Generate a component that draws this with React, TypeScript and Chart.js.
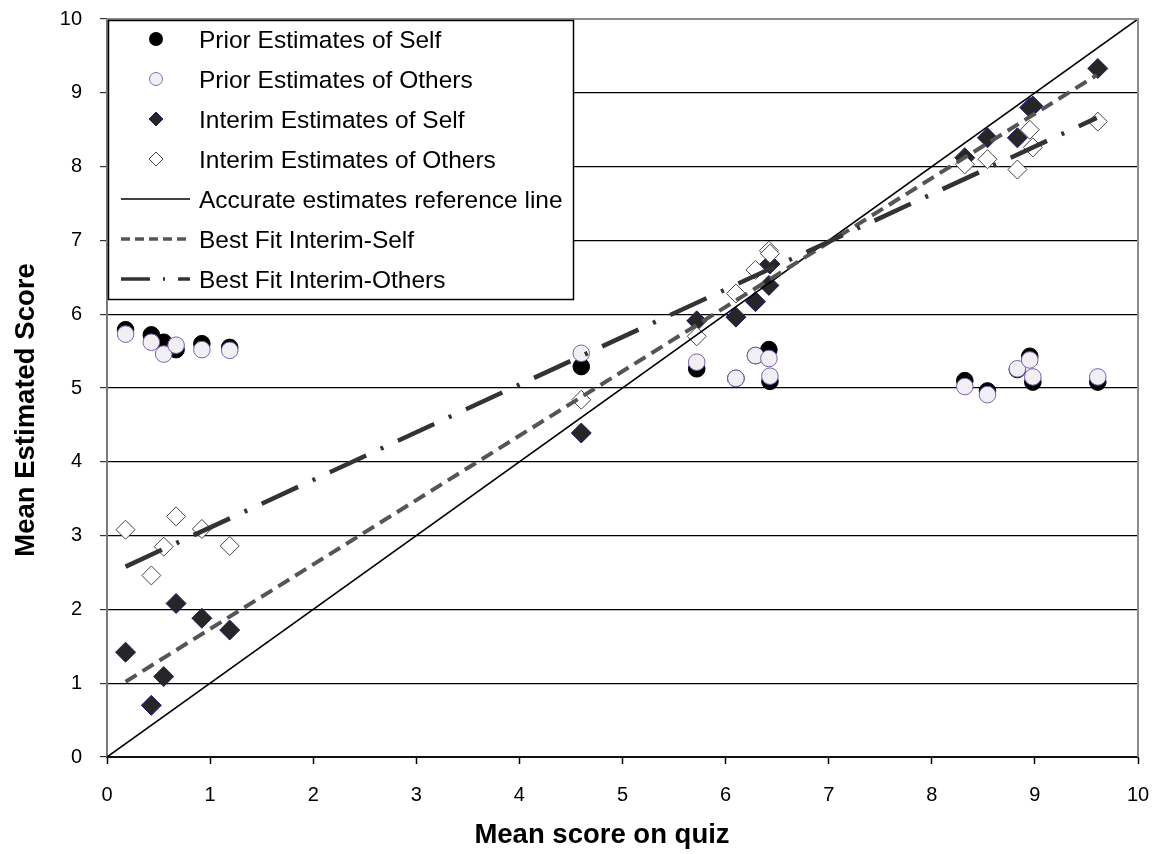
import React, { useEffect, useRef } from 'react';
import { Chart, registerables } from 'chart.js';

Chart.register(...registerables);

// ---- data ----
const quizMeans = [0.18, 0.43, 0.55, 0.67, 0.92, 1.19, 4.6, 5.72, 6.1, 6.29, 6.42, 6.43, 8.32, 8.54, 8.83, 8.95, 8.98, 9.61];
const priorSelf = [5.79, 5.72, 5.62, 5.52, 5.6, 5.55, 5.29, 5.26, 5.13, 5.44, 5.52, 5.09, 5.1, 4.96, 5.25, 5.43, 5.08, 5.08];
const priorOthers = [5.73, 5.62, 5.46, 5.58, 5.52, 5.51, 5.47, 5.35, 5.13, 5.44, 5.4, 5.16, 5.02, 4.91, 5.26, 5.38, 5.15, 5.15];
const interimSelf = [1.42, 0.7, 1.09, 2.08, 1.88, 1.72, 4.39, 5.91, 5.96, 6.17, 6.39, 6.68, 8.12, 8.39, 8.39, 8.8, 8.82, 9.33];
const interimOthers = [3.08, 2.46, 2.85, 3.26, 3.09, 2.86, 4.84, 5.7, 6.28, 6.6, 6.86, 6.82, 8.03, 8.1, 7.96, 8.5, 8.26, 8.61];

const accurateX = [0, 10];
const accurateY = [0, 10];
const fitSelfX = [0.18, 9.6];
const fitSelfY = [1.02, 9.24];
const fitOthersX = [0.18, 9.6];
const fitOthersY = [2.58, 8.66];

const seriesLabels = [
  'Prior Estimates of Self',
  'Prior Estimates of Others',
  'Interim Estimates of Self',
  'Interim Estimates of Others',
  'Accurate estimates reference line',
  'Best Fit Interim-Self',
  'Best Fit Interim-Others',
];
const xAxisTitle = 'Mean score on quiz';
const yAxisTitle = 'Mean Estimated Score';

const FONT = "'Liberation Sans', Arial, Helvetica, sans-serif";

const pts = (xs: number[], ys: number[]) => xs.map((x, i) => ({ x, y: ys[i] }));

function drawDiamond(ctx: CanvasRenderingContext2D, x: number, y: number, r: number) {
  ctx.beginPath();
  ctx.moveTo(x, y - r);
  ctx.lineTo(x + r, y);
  ctx.lineTo(x, y + r);
  ctx.lineTo(x - r, y);
  ctx.closePath();
}

const framePlugin = {
  id: 'frame',
  afterDatasetsDraw(chart: any) {
    const { ctx, chartArea: a } = chart;
    ctx.save();
    ctx.strokeStyle = '#8c8c8c';
    ctx.lineWidth = 2;
    ctx.beginPath();
    ctx.moveTo(a.left, a.top);
    ctx.lineTo(a.right, a.top);
    ctx.lineTo(a.right, a.bottom);
    ctx.stroke();
    ctx.restore();
  },
};

const legendPlugin = {
  id: 'customLegend',
  afterDraw(chart: any) {
    const ctx: CanvasRenderingContext2D = chart.ctx;
    const left = 108, top = 20, w = 466, h = 280;
    ctx.save();
    ctx.fillStyle = '#ffffff';
    ctx.fillRect(left, top, w, h);
    ctx.strokeStyle = '#000';
    ctx.lineWidth = 1.5;
    ctx.strokeRect(left + 0.5, top + 0.5, w - 1, h - 1);
    const symX = 156;
    const l1 = 121, l2 = 190;
    const labels = chart.data.datasets.map((d: any) => d.label);
    labels.forEach((label: string, i: number) => {
      const cy = 39 + 40 * i;
      ctx.setLineDash([]);
      if (i === 0) {
        ctx.beginPath();
        ctx.arc(symX, cy, 7, 0, Math.PI * 2);
        ctx.fillStyle = '#000';
        ctx.fill();
      } else if (i === 1) {
        ctx.beginPath();
        ctx.arc(symX, cy, 6.5, 0, Math.PI * 2);
        ctx.fillStyle = '#f0eff4';
        ctx.fill();
        ctx.strokeStyle = '#8a6cb8';
        ctx.lineWidth = 1;
        ctx.stroke();
      } else if (i === 2) {
        drawDiamond(ctx, symX, cy, 7);
        ctx.fillStyle = '#262626';
        ctx.fill();
        ctx.strokeStyle = '#1e1e6e';
        ctx.lineWidth = 1;
        ctx.stroke();
      } else if (i === 3) {
        drawDiamond(ctx, symX, cy, 7);
        ctx.fillStyle = '#fff';
        ctx.fill();
        ctx.strokeStyle = '#444';
        ctx.lineWidth = 1;
        ctx.stroke();
      } else {
        ctx.beginPath();
        ctx.moveTo(l1, cy);
        ctx.lineTo(l2, cy);
        if (i === 4) {
          ctx.strokeStyle = '#000';
          ctx.lineWidth = 1.5;
        } else if (i === 5) {
          ctx.strokeStyle = '#555';
          ctx.lineWidth = 3.5;
          ctx.setLineDash([9, 5]);
        } else {
          ctx.strokeStyle = '#333';
          ctx.lineWidth = 3.5;
          ctx.setLineDash([29, 13, 2, 13]);
        }
        ctx.stroke();
        ctx.setLineDash([]);
      }
      ctx.fillStyle = '#000';
      ctx.font = `24.5px ${FONT}`;
      ctx.textAlign = 'left';
      ctx.textBaseline = 'alphabetic';
      ctx.fillText(label, 199, cy + 8.5);
    });
    ctx.restore();
  },
};

const titlesPlugin = {
  id: 'axisTitles',
  afterDraw(chart: any) {
    const ctx: CanvasRenderingContext2D = chart.ctx;
    ctx.save();
    ctx.fillStyle = '#000';
    ctx.font = `bold 27.5px ${FONT}`;
    ctx.textAlign = 'center';
    ctx.textBaseline = 'alphabetic';
    ctx.fillText(xAxisTitle, 602, 843);
    ctx.translate(34, 410);
    ctx.rotate(-Math.PI / 2);
    ctx.fillText(yAxisTitle, 0, 0);
    ctx.restore();
  },
};

export default function App() {
  const ref = useRef<HTMLCanvasElement>(null);
  useEffect(() => {
    const canvas = ref.current;
    if (!canvas) return;
    const chart = new Chart(canvas, {
      type: 'scatter',
      data: {
        datasets: [
          {
            label: seriesLabels[0],
            data: pts(quizMeans, priorSelf),
            pointStyle: 'circle',
            pointRadius: 8.3,
            backgroundColor: '#000',
            borderColor: '#000',
            borderWidth: 1,
            order: 7,
          },
          {
            label: seriesLabels[1],
            data: pts(quizMeans, priorOthers),
            pointStyle: 'circle',
            pointRadius: 8.3,
            backgroundColor: '#f0eff4',
            borderColor: '#7d5fae',
            borderWidth: 1,
            order: 6,
          },
          {
            label: seriesLabels[2],
            data: pts(quizMeans, interimSelf),
            pointStyle: 'rectRot',
            pointRadius: 10,
            backgroundColor: '#262626',
            borderColor: '#1e1e6e',
            borderWidth: 1,
            order: 5,
          },
          {
            label: seriesLabels[3],
            data: pts(quizMeans, interimOthers),
            pointStyle: 'rectRot',
            pointRadius: 9.5,
            backgroundColor: '#ffffff',
            borderColor: '#444',
            borderWidth: 1,
            order: 4,
          },
          {
            label: seriesLabels[4],
            data: pts(accurateX, accurateY),
            showLine: true,
            pointRadius: 0,
            borderColor: '#000',
            borderWidth: 1.6,
            order: 3,
          },
          {
            label: seriesLabels[5],
            data: pts(fitSelfX, fitSelfY),
            showLine: true,
            pointRadius: 0,
            borderColor: '#555',
            borderWidth: 4,
            borderDash: [13, 7],
            order: 2,
          },
          {
            label: seriesLabels[6],
            data: pts(fitOthersX, fitOthersY),
            showLine: true,
            pointRadius: 0,
            borderColor: '#333',
            borderWidth: 4.5,
            borderDash: [40, 16, 3, 16],
            order: 1,
          },
        ] as any,
      },
      options: {
        responsive: false,
        animation: false,
        devicePixelRatio: 1,
        layout: { autoPadding: false, padding: { left: 0, right: 15, top: 19, bottom: 0 } },
        plugins: {
          legend: { display: false },
          tooltip: { enabled: false },
        },
        scales: {
          x: {
            type: 'linear',
            min: 0,
            max: 10,
            ticks: {
              stepSize: 1,
              color: '#000',
              font: { family: FONT, size: 20 },
              padding: 19,
            },
            grid: {
              drawOnChartArea: false,
              drawTicks: true,
              tickLength: 7,
              tickColor: '#000',
              tickWidth: 1.5,
            },
            border: { color: '#111', width: 2 },
            afterFit: (s: any) => {
              s.height = 97;
              s.paddingLeft = 0;
              s.paddingRight = 0;
            },
          },
          y: {
            type: 'linear',
            min: 0,
            max: 10,
            ticks: {
              stepSize: 1,
              color: '#000',
              font: { family: FONT, size: 20 },
              padding: 18,
            },
            grid: {
              color: (c: any) => (c.tick && c.tick.value === 10 ? 'rgba(0,0,0,0)' : '#000'),
              lineWidth: 1.2,
              tickLength: 7,
              tickColor: '#333',
              tickWidth: 1.2,
            },
            border: { color: '#7a7a7a', width: 2 },
            afterFit: (s: any) => {
              s.width = 107;
              s.paddingTop = 0;
              s.paddingBottom = 0;
            },
          },
        },
      } as any,
      plugins: [framePlugin, legendPlugin, titlesPlugin],
    });
    return () => chart.destroy();
  }, []);

  return (
    <div style={{ position: 'absolute', left: 0, top: 0, width: 1153, height: 854, background: '#fff' }}>
      <canvas ref={ref} width={1153} height={854} style={{ width: 1153, height: 854, display: 'block' }} />
    </div>
  );
}
